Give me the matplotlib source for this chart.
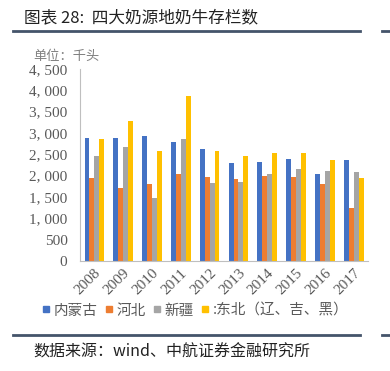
import matplotlib.pyplot as plt
from matplotlib.lines import Line2D
from matplotlib.ticker import FuncFormatter
import numpy as np

plt.rcParams['font.family'] = ['Noto Sans CJK SC', 'DejaVu Sans']

# 数据
years = ['2008', '2009', '2010', '2011', '2012', '2013', '2014', '2015', '2016', '2017']
neimenggu = [2870, 2870, 2925, 2790, 2630, 2295, 2315, 2380, 2025, 2355]
hebei = [1940, 1720, 1805, 2035, 1965, 1915, 1990, 1965, 1800, 1245]
xinjiang = [2455, 2670, 1480, 2855, 1815, 1845, 2035, 2145, 2100, 2080]
dongbei = [2860, 3280, 2575, 3875, 2580, 2455, 2525, 2525, 2365, 1935]

series = [
    ('内蒙古', neimenggu, '#4472C4'),
    ('河北', hebei, '#ED7D31'),
    ('新疆', xinjiang, '#A5A5A5'),
    (':东北（辽、吉、黑）', dongbei, '#FFC000'),
]

fig = plt.figure(figsize=(3.9, 3.71), dpi=100)
ax = fig.add_axes([0.205, 0.297, 0.739, 0.517])

x = np.arange(len(years))
w = 0.17
for i, (name, vals, color) in enumerate(series):
    ax.bar(x + (i - 1.5) * w, vals, width=w, color=color, label=name)

ax.set_xlim(-0.5, len(years) - 0.5)
ax.set_ylim(0, 4500)
ax.set_yticks(np.arange(0, 4501, 500))
ax.yaxis.set_major_formatter(FuncFormatter(lambda v, p: f'{int(v):,}'.replace(',', ', ')))
ax.set_xticks(x)
ax.set_xticklabels(years, rotation=45, ha='right', rotation_mode='anchor')
for lab in ax.get_xticklabels() + ax.get_yticklabels():
    lab.set_family(['Liberation Serif', 'DejaVu Serif'])
    lab.set_fontsize(11)
    lab.set_color('#595959')
ax.tick_params(axis='y', length=0, pad=9)
ax.tick_params(axis='x', length=0, pad=4)
ax.spines['top'].set_visible(False)
ax.spines['right'].set_visible(False)
ax.spines['left'].set_color('#BFBFBF')
ax.spines['bottom'].set_color('#BFBFBF')

# 图例
handles = [Line2D([], [], marker='s', linestyle='none', markersize=5,
                  color=c) for _, _, c in series]
fig.legend(handles, [s[0] for s in series], loc='center', bbox_to_anchor=(0.5, 0.163),
           ncol=4, frameon=False, fontsize=10.5, handlelength=0.6, handletextpad=0.2,
           columnspacing=0.5, labelcolor='#595959')

# 标题、单位、来源
fig.text(0.062, 0.952, '图表 28:  四大奶源地奶牛存栏数', fontsize=12, va='center', color='#222222')
fig.add_artist(Line2D([0.033, 0.923], [0.916, 0.916], color='#44546A', lw=2))
fig.add_artist(Line2D([0.98, 1.0], [0.916, 0.916], color='#44546A', lw=2))
fig.text(0.085, 0.847, '单位：千头', fontsize=9.5, va='center', color='#7F7F7F')
fig.add_artist(Line2D([0.033, 0.923], [0.097, 0.097], color='#44546A', lw=2))
fig.add_artist(Line2D([0.98, 1.0], [0.097, 0.097], color='#44546A', lw=2))
fig.text(0.085, 0.05, '数据来源：wind、中航证券金融研究所', fontsize=11.5, va='center', color='#222222')

plt.savefig('out.png', dpi=100, facecolor='white')
